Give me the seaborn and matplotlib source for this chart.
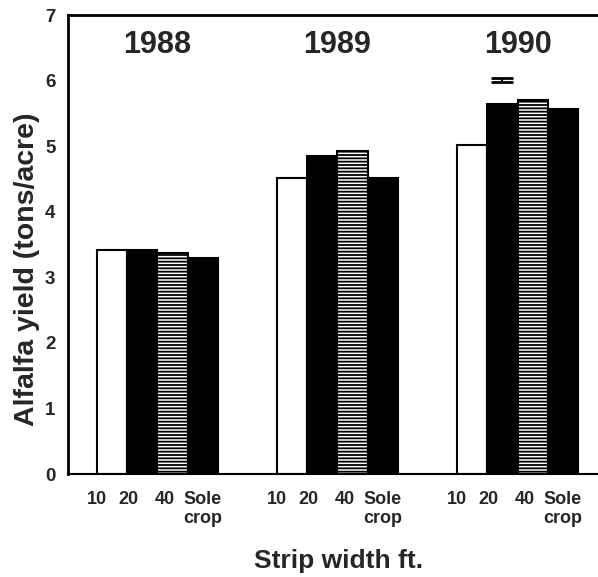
import matplotlib
matplotlib.use("Agg")
import matplotlib.pyplot as plt
import seaborn as sns
import pandas as pd

# ---- data ----
years = ["1988", "1989", "1990"]
strip_widths = ["10", "20", "40", "Sole crop"]
tick_labels = ["10", "20", "40", "Sole\ncrop"]
yield_1988 = [3.41, 3.42, 3.37, 3.29]
yield_1989 = [4.52, 4.85, 4.93, 4.52]
yield_1990 = [5.02, 5.65, 5.71, 5.57]
lsd_value = 6.01
lsd_half = 0.035

sns.set_style("white")
plt.rcParams["font.family"] = ["Liberation Sans", "DejaVu Sans"]
plt.rcParams["hatch.linewidth"] = 1.3

rows = []
for yr, vals in zip(years, [yield_1988, yield_1989, yield_1990]):
    for w, v in zip(strip_widths, vals):
        rows.append({"year": yr, "width": w, "yield": v})
df = pd.DataFrame(rows)

fig = plt.figure(figsize=(5.98, 5.77), dpi=100)
ax = fig.add_axes([0.1137, 0.1785, 0.8863, 0.7955])

palette = {"10": "white", "20": "black", "40": "white", "Sole crop": "black"}
sns.barplot(data=df, x="year", y="yield", hue="width", order=years,
            hue_order=strip_widths, palette=palette, width=0.67,
            edgecolor="black", linewidth=1.5, legend=False, ax=ax, errorbar=None)

# hatch the 40-ft bars
for bar in ax.containers[2]:
    bar.set_hatch("-----")

# tick labels under each bar (numbers sit slightly left of their bar, as in the original)
label_shift = [-0.083, -0.078, -0.044, 0.0]
pos, labs = [], []
for ci, cont in enumerate(ax.containers):
    for bar in cont:
        pos.append(bar.get_x() + bar.get_width() / 2 + label_shift[ci])
        labs.append(tick_labels[ci])
order = sorted(range(len(pos)), key=lambda i: pos[i])
ax.set_xticks([pos[i] for i in order], [labs[i] for i in order])
for t in ax.get_xticklabels():
    t.set_fontsize(13)
    t.set_fontweight("bold")
ax.tick_params(axis="x", length=0, pad=12)

# LSD bar over the 1990 20-ft bar
b = ax.containers[1][2]
ax.errorbar(b.get_x() + b.get_width() / 2, lsd_value, yerr=lsd_half,
            color="black", capsize=8, capthick=2, elinewidth=1.5)

# year labels
for i, yr in enumerate(years):
    ax.text(i, 6.54, yr, ha="center", va="center", fontsize=22, fontweight="bold")

ax.set_ylim(0, 7)
ax.set_xlim(-0.497, 2.447)
ax.set_yticks(range(0, 8))
ax.tick_params(axis="y", direction="in", length=7, width=1.5, labelsize=13.5, pad=9)
for t in ax.get_yticklabels():
    t.set_fontweight("bold")

ax.set_ylabel("Alfalfa yield (tons/acre)", fontsize=20.5, fontweight="bold")
ax.yaxis.set_label_coords(-0.052, 0.447)
ax.set_xlabel("Strip width ft.", fontsize=19, fontweight="bold")
ax.xaxis.set_label_coords(0.51, -0.164)

ax.spines["right"].set_visible(False)
ax.spines["top"].set_linewidth(2)
ax.spines["left"].set_linewidth(2)
ax.spines["bottom"].set_linewidth(1.5)
for s in ax.spines.values():
    s.set_color("black")

fig.savefig("out.png", dpi=100)
